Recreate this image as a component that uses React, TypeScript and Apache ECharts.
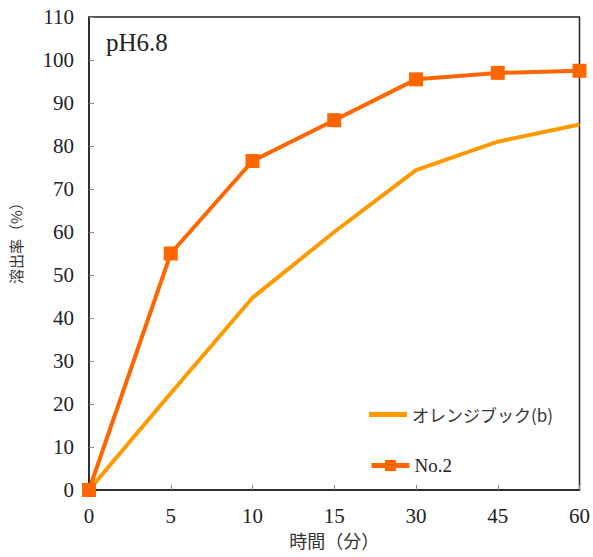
import React, { useEffect, useRef } from "react";
import * as echarts from "echarts";

const categories = ["0", "5", "10", "15", "30", "45", "60"];
const orangeBook = [0, 22.5, 44.7, 60, 74.4, 81, 85];
const no2 = [0, 55, 76.5, 86, 95.5, 97, 97.5];
const seriesNames = ["オレンジブック(b)", "No.2"];

const serif = "Liberation Serif";
const jp = "Noto Sans CJK JP";

export default function App() {
  const ref = useRef<HTMLDivElement>(null);
  useEffect(() => {
    if (!ref.current) return;
    const chart = echarts.init(ref.current, undefined, { renderer: "svg" });
    chart.setOption({
      animation: false,
      backgroundColor: "#fff",
      grid: { left: 89, right: 12, top: 17, bottom: 67, show: true, borderColor: "#222", borderWidth: 1.5 },
      graphic: [
        { type: "text", left: 106, top: 30, style: { text: "pH6.8", fontFamily: serif, fontSize: 25, fill: "#222" } },
      ],
      legend: [
        {
          left: 364,
          top: 401,
          itemWidth: 38,
          itemHeight: 5,
          icon: "rect",
          itemGap: 2,
          textStyle: { fontFamily: jp, fontSize: 17, color: "#333" },
          data: [seriesNames[0]],
        },
        {
          left: 364,
          top: 451,
          itemWidth: 38,
          itemHeight: 14,
          itemGap: 2,
          lineStyle: { width: 5 },
          textStyle: { fontFamily: serif, fontSize: 19, color: "#222" },
          data: [seriesNames[1]],
        },
      ],
      xAxis: {
        type: "category",
        data: categories,
        boundaryGap: false,
        name: "時間（分）",
        nameLocation: "middle",
        nameGap: 41,
        nameTextStyle: { fontFamily: jp, fontSize: 18, color: "#333" },
        axisLine: { lineStyle: { color: "#222", width: 1.5 } },
        axisTick: { inside: true, length: 5, lineStyle: { color: "#888" } },
        axisLabel: { fontFamily: serif, fontSize: 21, color: "#222", margin: 15 },
      },
      yAxis: {
        type: "value",
        min: 0,
        max: 110,
        interval: 10,
        name: "溶出率（%）",
        nameLocation: "middle",
        nameGap: 66,
        nameRotate: 90,
        nameTextStyle: { fontFamily: jp, fontSize: 15, color: "#333", padding: [0, 0, 0, 28] },
        splitLine: { show: false },
        axisLine: { show: true, lineStyle: { color: "#222", width: 1.5 } },
        axisTick: { show: true, inside: true, length: 5, lineStyle: { color: "#888" } },
        axisLabel: { fontFamily: serif, fontSize: 21, color: "#222", margin: 15 },
      },
      series: [
        {
          name: seriesNames[0],
          type: "line",
          data: orangeBook,
          symbol: "none",
          lineStyle: { color: "#FF9900", width: 4 },
          itemStyle: { color: "#FF9900" },
        },
        {
          name: seriesNames[1],
          type: "line",
          data: no2,
          symbol: "rect",
          symbolSize: 14,
          lineStyle: { color: "#FF6600", width: 4 },
          itemStyle: { color: "#FF6600" },
        },
      ],
    });
    return () => chart.dispose();
  }, []);
  return <div ref={ref} style={{ width: 593, height: 557, position: "absolute", left: 0, top: 0 }} />;
}
